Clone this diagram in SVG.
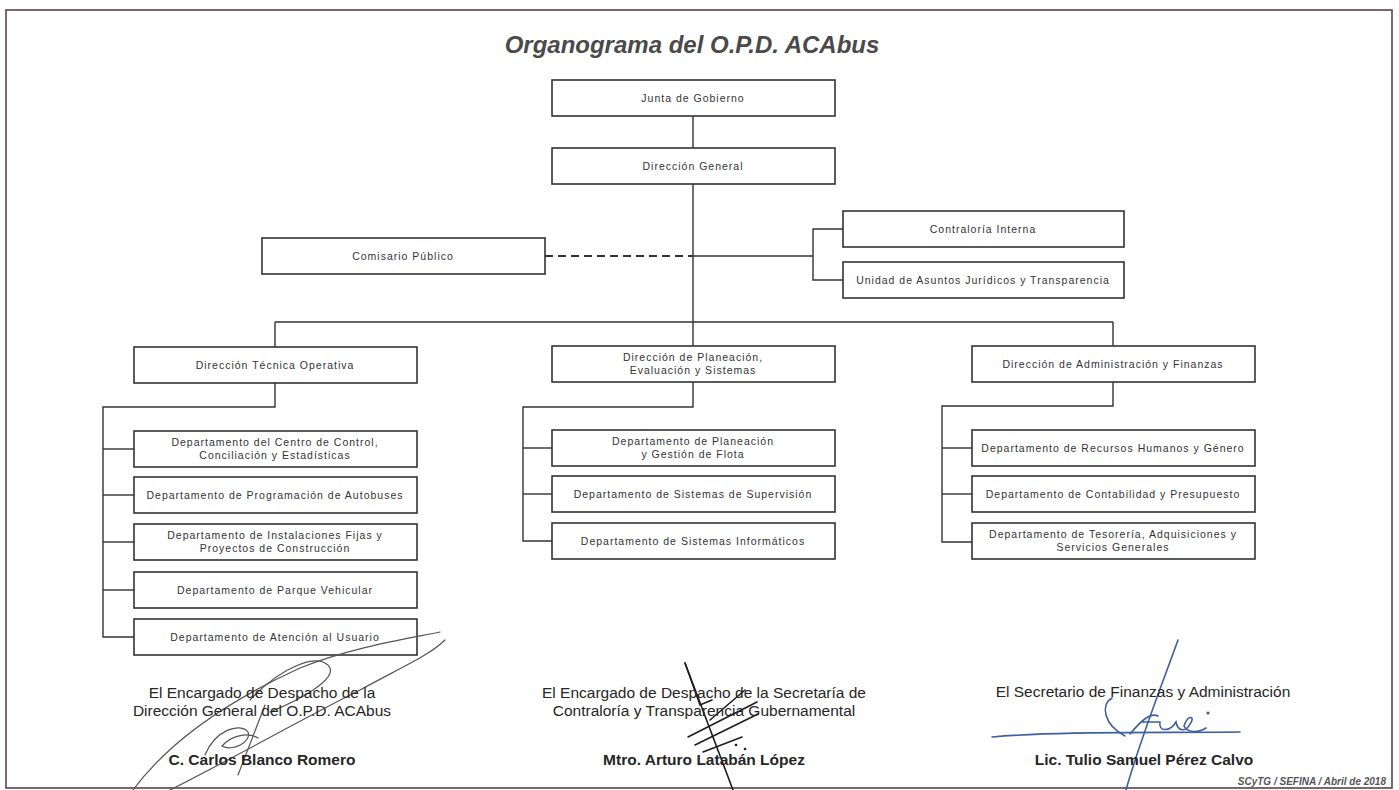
<svg xmlns="http://www.w3.org/2000/svg" width="1399" height="790" viewBox="0 0 1399 790">
<style>
.box{fill:#fff;stroke:#333;stroke-width:1.6}
.t{font-family:"Liberation Sans",Arial,sans-serif;font-size:10.5px;letter-spacing:1px;fill:#333;text-anchor:middle}
.ln{stroke:#333;stroke-width:1.4;fill:none}
.dash{stroke:#333;stroke-width:2;stroke-dasharray:8 5;fill:none}
.title{font-family:"Liberation Sans",Arial,sans-serif;font-size:24px;font-weight:bold;font-style:italic;fill:#4a4a4a;text-anchor:middle}
.sig{font-family:"Liberation Sans",Arial,sans-serif;font-size:15.5px;fill:#262626;text-anchor:middle}
.name{font-family:"Liberation Sans",Arial,sans-serif;font-size:15.5px;font-weight:bold;fill:#262626;text-anchor:middle}
.foot{font-family:"Liberation Sans",Arial,sans-serif;font-size:10px;font-weight:bold;font-style:italic;fill:#555;text-anchor:end}
.pen1{stroke:#555;stroke-width:1.2;fill:none;stroke-linecap:round}
.pen2{stroke:#1e1e1e;stroke-width:1.6;fill:none;stroke-linecap:round}
.pen3{stroke:#3d5f9e;stroke-width:1.6;fill:none;stroke-linecap:round}
</style>
<rect x="0" y="0" width="1399" height="790" fill="#fff"/>
<rect x="6" y="10" width="1386" height="778" fill="none" stroke="#5e4248" stroke-width="1.6"/>
<text class="title" x="692" y="53">Organograma del O.P.D. ACAbus</text>

<g id="connectors">
  <line class="ln" x1="693" y1="116" x2="693" y2="148"/>
  <line class="ln" x1="693" y1="184" x2="693" y2="322"/>
  <line class="dash" x1="545" y1="256" x2="693" y2="256"/>
  <line class="ln" x1="693" y1="256" x2="813" y2="256"/>
  <polyline class="ln" points="843,229 813,229 813,280 843,280"/>
  <line class="ln" x1="275" y1="322" x2="1113" y2="322"/>
  <line class="ln" x1="275" y1="322" x2="275" y2="347"/>
  <line class="ln" x1="693" y1="322" x2="693" y2="346"/>
  <line class="ln" x1="1113" y1="322" x2="1113" y2="346"/>
  <polyline class="ln" points="275,383 275,407 103,407 103,637 134,637"/>
  <line class="ln" x1="103" y1="449" x2="134" y2="449"/>
  <line class="ln" x1="103" y1="495" x2="134" y2="495"/>
  <line class="ln" x1="103" y1="542" x2="134" y2="542"/>
  <line class="ln" x1="103" y1="590" x2="134" y2="590"/>
  <polyline class="ln" points="693,382 693,407 523,407 523,541 552,541"/>
  <line class="ln" x1="523" y1="448" x2="552" y2="448"/>
  <line class="ln" x1="523" y1="494" x2="552" y2="494"/>
  <polyline class="ln" points="1113,382 1113,406 942,406 942,542 972,542"/>
  <line class="ln" x1="942" y1="448" x2="972" y2="448"/>
  <line class="ln" x1="942" y1="494" x2="972" y2="494"/>
</g>

<g id="junta"><rect class="box" x="552" y="80" width="283" height="36"/><text class="t" x="693" y="102">Junta de Gobierno</text></g>
<g id="direccion-general"><rect class="box" x="552" y="148" width="283" height="36"/><text class="t" x="693" y="170">Dirección General</text></g>
<g id="comisario"><rect class="box" x="262" y="238" width="283" height="36"/><text class="t" x="403" y="260">Comisario Público</text></g>
<g id="contraloria"><rect class="box" x="843" y="211" width="281" height="36"/><text class="t" x="983" y="233">Contraloría Interna</text></g>
<g id="juridicos"><rect class="box" x="843" y="262" width="281" height="36"/><text class="t" x="983" y="284">Unidad de Asuntos Jurídicos y Transparencia</text></g>

<g id="dto"><rect class="box" x="134" y="347" width="283" height="36"/><text class="t" x="275" y="369">Dirección Técnica Operativa</text></g>
<g id="dpes"><rect class="box" x="552" y="346" width="283" height="36"/><text class="t" x="693" y="361">Dirección de Planeación,</text><text class="t" x="693" y="374">Evaluación y Sistemas</text></g>
<g id="daf"><rect class="box" x="972" y="346" width="283" height="36"/><text class="t" x="1113" y="368">Dirección de Administración y Finanzas</text></g>

<g id="d-centro"><rect class="box" x="134" y="431" width="283" height="36"/><text class="t" x="275" y="446">Departamento del Centro de Control,</text><text class="t" x="275" y="459">Conciliación y Estadísticas</text></g>
<g id="d-programacion"><rect class="box" x="134" y="477" width="283" height="36"/><text class="t" x="275" y="499">Departamento de Programación de Autobuses</text></g>
<g id="d-instalaciones"><rect class="box" x="134" y="524" width="283" height="36"/><text class="t" x="275" y="539">Departamento de Instalaciones Fijas y</text><text class="t" x="275" y="552">Proyectos de Construcción</text></g>
<g id="d-parque"><rect class="box" x="134" y="572" width="283" height="36"/><text class="t" x="275" y="594">Departamento de Parque Vehicular</text></g>
<g id="d-atencion"><rect class="box" x="134" y="619" width="283" height="36"/><text class="t" x="275" y="641">Departamento de Atención al Usuario</text></g>

<g id="d-planeacion"><rect class="box" x="552" y="430" width="283" height="36"/><text class="t" x="693" y="445">Departamento de Planeación</text><text class="t" x="693" y="458">y Gestión de Flota</text></g>
<g id="d-supervision"><rect class="box" x="552" y="476" width="283" height="36"/><text class="t" x="693" y="498">Departamento de Sistemas de Supervisión</text></g>
<g id="d-informaticos"><rect class="box" x="552" y="523" width="283" height="36"/><text class="t" x="693" y="545">Departamento de Sistemas Informáticos</text></g>

<g id="d-rh"><rect class="box" x="972" y="430" width="283" height="36"/><text class="t" x="1113" y="452">Departamento de Recursos Humanos y Género</text></g>
<g id="d-contabilidad"><rect class="box" x="972" y="476" width="283" height="36"/><text class="t" x="1113" y="498">Departamento de Contabilidad y Presupuesto</text></g>
<g id="d-tesoreria"><rect class="box" x="972" y="523" width="283" height="36"/><text class="t" x="1113" y="538">Departamento de Tesorería, Adquisiciones y</text><text class="t" x="1113" y="551">Servicios Generales</text></g>

<g id="signatures-ink">
  <path class="pen1" d="M133,790 C170,740 230,700 300,668 C350,648 400,640 440,632"/>
  <path class="pen1" d="M170,790 C230,760 300,720 360,690 C400,668 430,655 445,640"/>
  <path class="pen1" d="M250,700 C280,668 320,650 330,668 C335,680 300,700 270,712"/>
  <path class="pen1" d="M205,755 C215,730 240,722 248,732 C252,742 232,752 222,746 C232,735 248,732 258,738"/>
  <path class="pen1" d="M238,775 L265,705"/>
  <path class="pen2" d="M685,663 L733,790"/>
  <path class="pen2" d="M685,663 L700,705 L712,700"/>
  <path class="pen2" d="M688,737 L757,702"/>
  <path class="pen2" d="M695,745 L758,714"/>
  <path class="pen2" d="M703,752 L742,737"/>
  <path class="pen2" d="M710,720 L745,690"/>
  <circle cx="736" cy="745" r="1.3" fill="#1e1e1e"/>
  <circle cx="745" cy="749" r="1.3" fill="#1e1e1e"/>
  <path class="pen3" d="M1178,640 C1160,690 1140,740 1126,790"/>
  <path class="pen3" d="M1112,698 C1100,705 1104,725 1125,736"/>
  <path class="pen3" d="M992,737 C1060,731 1150,733 1240,732" stroke-width="2.2"/>
  <path class="pen3" d="M1130,734 C1140,722 1150,712 1158,716 M1142,722 L1160,722 M1160,722 C1158,732 1170,732 1176,722 C1178,732 1186,732 1190,724 C1196,716 1188,714 1184,726 C1188,734 1200,732 1206,728"/>
  <circle cx="1208" cy="713" r="1.6" fill="#3d5f9e"/>
</g>

<g id="signature-texts">
  <text class="sig" x="262" y="698">El Encargado de Despacho de la</text>
  <text class="sig" x="262" y="716">Dirección General del O.P.D. ACAbus</text>
  <text class="name" x="262" y="765">C. Carlos Blanco Romero</text>
  <text class="sig" x="704" y="698">El Encargado de Despacho de la Secretaría de</text>
  <text class="sig" x="704" y="716">Contraloría y Transparencia Gubernamental</text>
  <text class="name" x="704" y="765">Mtro. Arturo Latabán López</text>
  <text class="sig" x="1143" y="697">El Secretario de Finanzas y Administración</text>
  <text class="name" x="1144" y="765">Lic. Tulio Samuel Pérez Calvo</text>
  <text class="foot" x="1386" y="785">SCyTG / SEFINA / Abril de 2018</text>
</g>
</svg>
